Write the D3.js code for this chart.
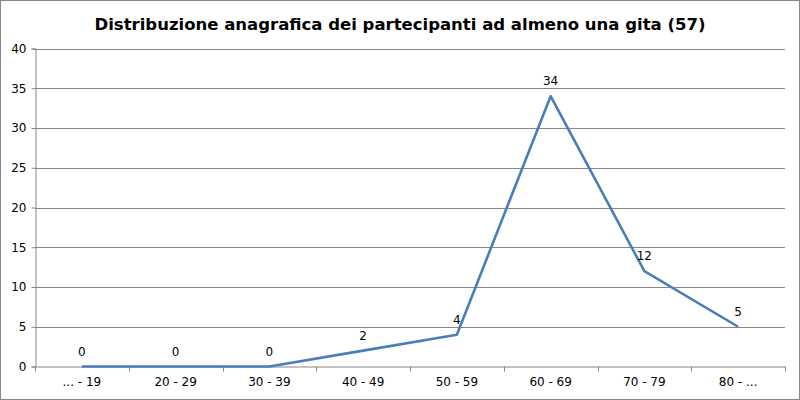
<!DOCTYPE html>
<html>
<head>
    <script src="https://d3js.org/d3.v7.min.js"></script>
    <style>
        body { margin: 0; background: white; }
        text { font-family: "DejaVu Sans", Verdana, sans-serif; }
    </style>
</head>
<body>
<svg id="chart" width="800" height="400"></svg>
<script>
    const chartTitle = "Distribuzione anagrafica dei partecipanti ad almeno una gita (57)";
    const ageGroups = ["... - 19", "20 - 29", "30 - 39", "40 - 49", "50 - 59", "60 - 69", "70 - 79", "80 - ..."];
    const participants = [0, 0, 0, 2, 4, 34, 12, 5];
    const yTicks = [0, 5, 10, 15, 20, 25, 30, 35, 40];

    const svg = d3.select("#chart");
    const plotLeft = 35, plotRight = 785, plotTop = 48.5, plotBottom = 366.5;

    // outer frame
    svg.append("rect")
       .attr("x", 0.5).attr("y", 0.5)
       .attr("width", 799).attr("height", 399)
       .attr("fill", "white")
       .attr("stroke", "#868686");

    svg.append("text")
       .attr("x", 400).attr("y", 30)
       .attr("text-anchor", "middle")
       .style("font-size", "16.5px")
       .style("font-weight", "bold")
       .text(chartTitle);

    const x = d3.scaleBand().domain(ageGroups).range([plotLeft, plotRight]);
    const y = d3.scaleLinear().domain([0, 40]).range([plotBottom, plotTop]);

    // gridlines
    svg.append("g")
       .selectAll("line")
       .data(yTicks.filter(d => d > 0))
       .join("line")
       .attr("x1", plotLeft).attr("x2", plotRight)
       .attr("y1", d => Math.round(y(d)) + 0.5)
       .attr("y2", d => Math.round(y(d)) + 0.5)
       .attr("stroke", "#868686");

    // y axis
    const yAxis = svg.append("g")
       .attr("transform", `translate(${plotLeft + 0.5},0)`)
       .call(d3.axisLeft(y).tickValues(yTicks).tickSize(4).tickPadding(5));
    yAxis.select(".domain").attr("stroke", "#868686");
    yAxis.selectAll(".tick line").attr("stroke", "#868686");
    yAxis.selectAll(".tick text").style("font-size", "12px").attr("fill", "black");

    // x axis
    const xAxis = svg.append("g")
       .attr("transform", `translate(0,${plotBottom})`)
       .call(d3.axisBottom(x).tickSize(0).tickPadding(11));
    xAxis.select(".domain").attr("stroke", "#868686");
    xAxis.selectAll(".tick text").style("font-size", "12px").attr("fill", "black");

    // band boundary ticks
    const bounds = ageGroups.map(d => x(d)).concat([x(ageGroups[ageGroups.length - 1]) + x.bandwidth()]);
    svg.append("g")
       .selectAll("line")
       .data(bounds)
       .join("line")
       .attr("x1", d => Math.round(d) + 0.5).attr("x2", d => Math.round(d) + 0.5)
       .attr("y1", plotBottom).attr("y2", plotBottom + 5)
       .attr("stroke", "#868686");

    const cx = d => x(d) + x.bandwidth() / 2;

    const line = d3.line()
       .x((d, i) => cx(ageGroups[i]))
       .y(d => y(d));

    svg.append("path")
       .datum(participants)
       .attr("d", line)
       .attr("fill", "none")
       .attr("stroke", "#4a7ebb")
       .attr("stroke-width", 2.6)
       .attr("stroke-linejoin", "round");

    svg.append("g")
       .selectAll("text")
       .data(participants)
       .join("text")
       .attr("x", (d, i) => cx(ageGroups[i]))
       .attr("y", d => y(d) - 11)
       .attr("text-anchor", "middle")
       .style("font-size", "12px")
       .text(d => d);
</script>
</body>
</html>
